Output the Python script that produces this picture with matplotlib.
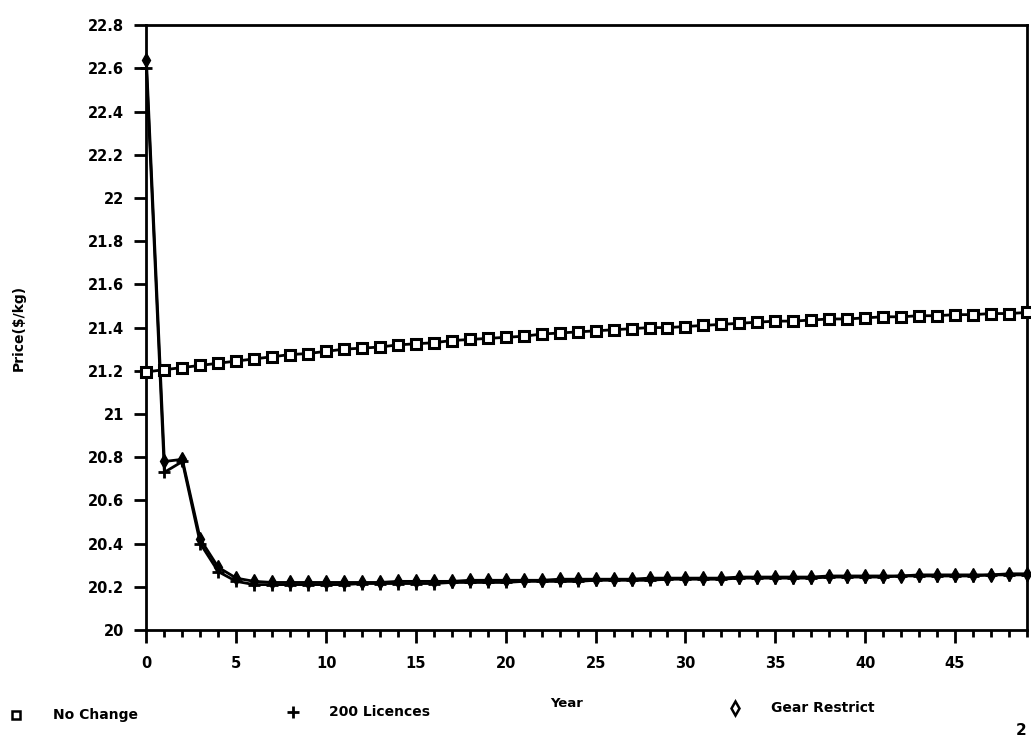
import matplotlib
matplotlib.use("Agg")
import matplotlib.pyplot as plt
from matplotlib.lines import Line2D
from matplotlib.ticker import MultipleLocator

plt.rcParams['font.family'] = ['DejaVu Sans']
plt.rcParams['font.weight'] = 'bold'

years = list(range(50))

no_change = [21.195, 21.205, 21.215, 21.225, 21.235, 21.245, 21.255, 21.265, 21.275, 21.28,
             21.29, 21.30, 21.305, 21.31, 21.32, 21.325, 21.33, 21.34, 21.345, 21.35,
             21.355, 21.36, 21.37, 21.375, 21.38, 21.385, 21.39, 21.395, 21.40, 21.40,
             21.405, 21.41, 21.415, 21.42, 21.425, 21.43, 21.43, 21.435, 21.44, 21.44,
             21.445, 21.45, 21.45, 21.455, 21.455, 21.46, 21.46, 21.465, 21.465, 21.47]

licences_200 = [22.60, 20.73, 20.78, 20.40, 20.27, 20.225, 20.21, 20.21, 20.21, 20.21,
                20.21, 20.21, 20.215, 20.215, 20.215, 20.215, 20.215, 20.22, 20.22, 20.22,
                20.22, 20.225, 20.225, 20.225, 20.225, 20.23, 20.23, 20.23, 20.23, 20.235,
                20.235, 20.235, 20.235, 20.24, 20.24, 20.24, 20.24, 20.24, 20.245, 20.245,
                20.245, 20.245, 20.25, 20.25, 20.25, 20.25, 20.25, 20.255, 20.255, 20.255]

gear_restrict = [22.64, 20.78, 20.79, 20.42, 20.29, 20.24, 20.225, 20.22, 20.22, 20.22,
                 20.22, 20.22, 20.22, 20.22, 20.225, 20.225, 20.225, 20.225, 20.23, 20.23,
                 20.23, 20.23, 20.23, 20.235, 20.235, 20.235, 20.235, 20.235, 20.24, 20.24,
                 20.24, 20.24, 20.24, 20.245, 20.245, 20.245, 20.245, 20.245, 20.25, 20.25,
                 20.25, 20.25, 20.25, 20.255, 20.255, 20.255, 20.255, 20.255, 20.26, 20.26]

yticks = [20, 20.2, 20.4, 20.6, 20.8, 21, 21.2, 21.4, 21.6, 21.8, 22, 22.2, 22.4, 22.6, 22.8]
ytick_labels = ['20', '20.2', '20.4', '20.6', '20.8', '21', '21.2', '21.4', '21.6', '21.8',
                '22', '22.2', '22.4', '22.6', '22.8']
xticks = [0, 5, 10, 15, 20, 25, 30, 35, 40, 45]

fig = plt.figure(figsize=(10.31, 7.42), dpi=100)
ax = fig.add_axes([0.142, 0.151, 0.854, 0.815])

ax.plot(years, gear_restrict, color='black', lw=2.0, marker='d', ms=7,
        mfc='black', mec='black', mew=1.0, clip_on=False, zorder=3)
ax.plot(years, licences_200, color='black', lw=2.0, marker='+', ms=8,
        mec='black', mew=2.0, clip_on=False, zorder=3)
ax.plot(years, no_change, color='black', lw=2.0, marker='s', ms=6.5,
        mfc='white', mec='black', mew=2.2, clip_on=False, zorder=3)

ax.set_xlim(0, 49)
ax.set_ylim(20, 22.8)
ax.set_yticks(yticks)
ax.set_yticklabels(ytick_labels)
ax.set_xticks(xticks)
ax.xaxis.set_minor_locator(MultipleLocator(1))

ax.tick_params(axis='y', direction='out', length=9, width=2, labelsize=10.5, pad=7)
ax.tick_params(axis='x', which='major', direction='out', length=9, width=2,
               labelsize=10.5, pad=10)
ax.tick_params(axis='x', which='minor', direction='out', length=5, width=2)
for lab in ax.get_xticklabels() + ax.get_yticklabels():
    lab.set_fontweight('bold')
for sp in ax.spines.values():
    sp.set_linewidth(2)

ax.set_ylabel('Price($/kg)', fontsize=10, fontweight='bold')
ax.yaxis.set_label_coords(-0.137, 0.5)
fig.text(0.55, 0.052, 'Year', fontsize=9.5, fontweight='bold', ha='center', va='center')

# legend row along the bottom
legend_items = [
    (0.016, 0.036, 's', 'No Change'),
    (0.284, 0.040, '+', '200 Licences'),
    (0.713, 0.046, 'd', 'Gear Restrict'),
]
for lx, ly, mk, txt in legend_items:
    if mk == 's':
        m = Line2D([lx], [ly], transform=fig.transFigure, marker='s', ms=6,
                   mfc='white', mec='black', mew=1.8, ls='none')
    elif mk == '+':
        m = Line2D([lx], [ly], transform=fig.transFigure, marker='+', ms=8,
                   mec='black', mew=2, ls='none')
    else:
        m = Line2D([lx], [ly], transform=fig.transFigure, marker='d', ms=7,
                   mfc='white', mec='black', mew=1.8, ls='none')
    fig.add_artist(m)
    fig.text(lx + 0.035, ly, txt, fontsize=10, fontweight='bold', va='center', ha='left')

fig.text(0.996, 0.006, '2', fontsize=11, fontweight='bold', va='bottom', ha='right')

fig.savefig('out.png', dpi=100)
